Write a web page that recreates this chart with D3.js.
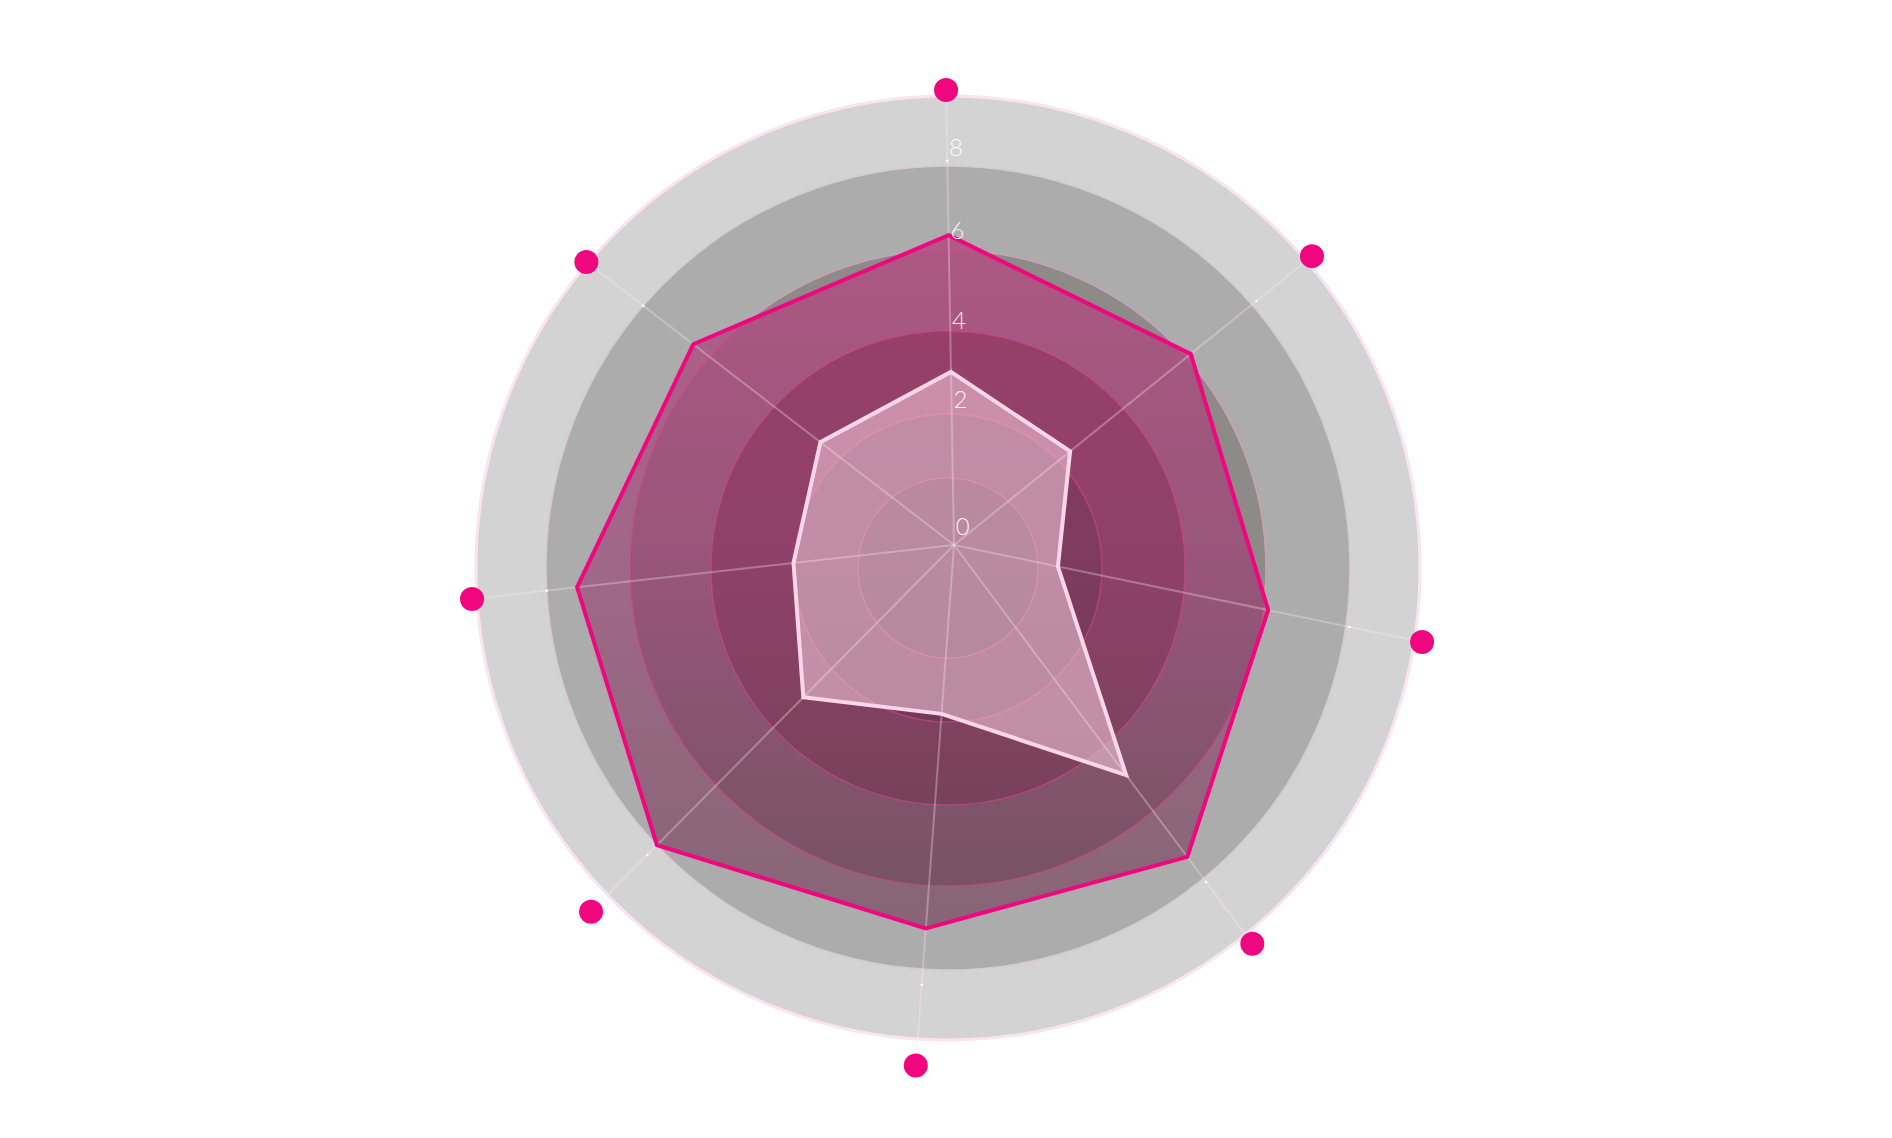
<!DOCTYPE html>
<html><head><meta charset="utf-8">
<script src="https://cdn.jsdelivr.net/npm/d3@7"></script>
<style>html,body{margin:0;background:#fff;} svg{display:block}</style>
</head><body>
<svg id="chart" width="1892" height="1138"></svg>
<script>
// ---------------- data ----------------
const categories = ["A", "B", "C", "D", "E", "F", "G", "H"];
const seriesOuter = [5.9, 5.7, 5.8, 7.0, 6.5, 7.4, 7.0, 6.2];
const seriesInner = [2.7, 2.05, 1.3, 4.85, 2.05, 3.1, 2.15, 2.5];
const tickValues = [0, 2, 4, 6, 8];
const gridLevels = [0, 2, 4, 6, 8, 10];
const axisMax = 10;

// ---------------- layout ----------------
const gridC = {x: 948, y: 568};
const axisC = {x: 954, y: 545};
const axisAngleDeg = [-1.0, 51.1, 101.7, 143.2, 184.2, 224.7, 263.6, 307.6];
const axisLength = [455, 460, 478, 498, 522, 516, 485, 464];

const svg = d3.select("#chart");
const defs = svg.append("defs");

const gridRadius = d3.scaleLinear().domain([0, 2, 4, 6, 8, 10]).range([90, 154, 237, 318, 402, 472]);
const axisFrac = d3.scaleLinear().domain([0, 2, 4, 6, 8, 10]).range([0.04, 0.32, 0.493, 0.691, 0.873, 1]);
const angle = d3.scaleOrdinal().domain(categories).range(axisAngleDeg.map(d => d * Math.PI / 180));
const length = d3.scaleOrdinal().domain(categories).range(axisLength);

function pt(cat, v) {
  const a = angle(cat), r = length(cat) * axisFrac(v);
  return [axisC.x + r * Math.sin(a), axisC.y - r * Math.cos(a)];
}
const line = d3.line().curve(d3.curveLinearClosed);

// ---------------- grid rings (outside polygons) ----------------
const ringFill = {10: "#d3d3d3", 8: "#acacac", 6: "#8e8a88", 4: "#7a6670", 2: "#74606a", 0: "#6e5a64"};
const ringStroke = {10: "#fbe3ef", 8: "#d6c9d0", 6: "#c9a3b6", 4: "#b07090", 2: "#b07090", 0: "#b07090"};
const levelsDesc = gridLevels.slice().reverse();
const grid = svg.append("g");
grid.selectAll("circle").data(levelsDesc).join("circle")
  .attr("cx", gridC.x).attr("cy", gridC.y)
  .attr("r", d => gridRadius(d))
  .attr("fill", d => ringFill[d])
  .attr("stroke", d => ringStroke[d])
  .attr("stroke-width", d => d === 10 ? 3 : 1.5);

// ---------------- outer polygon, ring-tinted fill ----------------
const outerPts = categories.map((c, i) => pt(c, seriesOuter[i]));
const innerPts = categories.map((c, i) => pt(c, seriesInner[i]));

defs.append("clipPath").attr("id", "clipOuter").append("path").attr("d", line(outerPts));

const magGrad = {
  10: ["#b05a85", "#a06888", "#866575"],
  8:  ["#b05a85", "#a06888", "#866575"],
  6:  ["#ad5883", "#98557a", "#735262"],
  4:  ["#9a4068", "#8e4168", "#6c4254"],
  2:  ["#8a3a64", "#7d3c5e", "#60364a"],
  0:  ["#7a3459", "#6f3752", "#5a3446"]
};
Object.entries(magGrad).forEach(([k, cols]) => {
  const g = defs.append("linearGradient").attr("id", "mg" + k)
    .attr("gradientUnits", "userSpaceOnUse")
    .attr("x1", 0).attr("x2", 0).attr("y1", 235).attr("y2", 927);
  g.append("stop").attr("offset", 0).attr("stop-color", cols[0]);
  g.append("stop").attr("offset", 0.48).attr("stop-color", cols[1]);
  g.append("stop").attr("offset", 1).attr("stop-color", cols[2]);
});

const inside = svg.append("g").attr("clip-path", "url(#clipOuter)");
inside.selectAll("circle").data(levelsDesc).join("circle")
  .attr("cx", gridC.x).attr("cy", gridC.y)
  .attr("r", d => gridRadius(d))
  .attr("fill", d => `url(#mg${d})`)
  .attr("stroke", "rgba(215,70,140,0.55)")
  .attr("stroke-width", 1.5);

// ---------------- inner polygon fill ----------------
svg.append("path").attr("d", line(innerPts))
  .attr("fill", "rgba(253,215,232,0.52)");

// ---------------- axes ----------------
const axes = svg.append("g");
categories.forEach((c, i) => {
  const [x2, y2] = pt(c, axisMax);
  axes.append("line")
    .attr("x1", axisC.x).attr("y1", axisC.y).attr("x2", x2).attr("y2", y2)
    .attr("stroke", "rgba(255,232,243,0.32)").attr("stroke-width", 2);
  const jf = 0.845, a = angle(c), r = length(c) * jf;
  axes.append("circle")
    .attr("cx", axisC.x + r * Math.sin(a)).attr("cy", axisC.y - r * Math.cos(a))
    .attr("r", 1.2).attr("fill", "#ffffff");
});

// ---------------- polygon strokes ----------------
svg.append("path").attr("d", line(outerPts))
  .attr("fill", "none").attr("stroke", "#f0067f").attr("stroke-width", 4)
  .attr("stroke-linejoin", "miter");
svg.append("path").attr("d", line(innerPts))
  .attr("fill", "none").attr("stroke", "#fdd6e9").attr("stroke-width", 4)
  .attr("stroke-linejoin", "miter");

// ---------------- tick labels ----------------
svg.append("g").selectAll("text").data(tickValues).join("text")
  .attr("x", d => pt(categories[0], d)[0] + 9)
  .attr("y", d => pt(categories[0], d)[1])
  .attr("dy", "0.35em")
  .attr("text-anchor", "middle")
  .attr("font-family", "Lato, 'Open Sans', sans-serif")
  .attr("font-weight", 300)
  .attr("font-size", 24)
  .attr("fill", "rgba(255,255,255,0.9)")
  .text(d => d);

// ---------------- end dots ----------------
svg.append("g").selectAll("circle").data(categories).join("circle")
  .attr("cx", c => pt(c, axisMax)[0])
  .attr("cy", c => pt(c, axisMax)[1])
  .attr("r", 12)
  .attr("fill", "#f0067f");
</script>
</body></html>
